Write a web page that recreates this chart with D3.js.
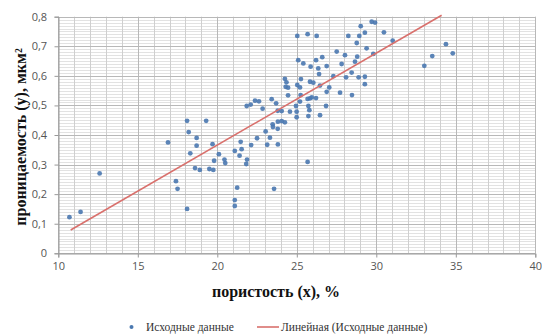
<!DOCTYPE html>
<html><head><meta charset="utf-8">
<script src="https://cdn.jsdelivr.net/npm/d3@7"></script>
<style>body{margin:0;background:#fff}svg{display:block}</style>
</head><body>
<svg id="c" width="542" height="335"></svg>
<script>
const porosity = [10.7,11.4,12.6,16.9,17.4,17.5,18.1,18.1,18.2,18.3,18.7,18.7,18.6,18.9,19.3,19.7,19.5,19.75,19.8,20.1,20.45,20.5,21.1,21.1,21.25,21.1,21.4,21.47,21.53,21.87,21.82,21.85,22.1,22.37,22.62,22.85,22.13,22.5,23.04,23.14,23.31,23.42,23.57,23.48,23.5,23.8,23.81,23.81,23.7,23.8,
24.05,24.25,24.05,24.25,24.35,24.3,24.45,24.45,24.57,24.95,24.99,24.99,25.03,25.09,25.41,25.03,25.2,25.26,25.24,25.2,25.68,26.25,25.87,26.21,26.35,26.6,26.88,26.4,25.83,26.04,26.46,25.68,25.83,25.94,26.21,25.73,25.79,25.73,26.46,25.68,26.84,26.88,27.04,27.3,27.51,27.82,28.03,27.72,28.1,28.24,28.45,28.47,28.66,28.77,28.8,28.93,29.02,28.89,29.28,29.39,29.28,29.28,29.71,29.92,29.81,30.48,31.03,33.02,33.52,34.38,34.81];
const permeability = [0.122,0.14,0.27,0.375,0.244,0.218,0.15,0.448,0.41,0.338,0.39,0.364,0.288,0.282,0.448,0.369,0.285,0.282,0.313,0.335,0.317,0.305,0.18,0.16,0.222,0.346,0.33,0.377,0.352,0.317,0.302,0.498,0.503,0.516,0.514,0.489,0.366,0.389,0.412,0.367,0.391,0.521,0.218,0.436,0.427,0.421,0.445,0.368,0.507,0.482,
0.447,0.443,0.481,0.59,0.578,0.563,0.56,0.534,0.479,0.498,0.46,0.479,0.735,0.653,0.642,0.569,0.561,0.589,0.535,0.513,0.741,0.735,0.631,0.653,0.625,0.663,0.633,0.606,0.58,0.577,0.567,0.522,0.524,0.527,0.525,0.498,0.484,0.464,0.467,0.309,0.498,0.546,0.561,0.599,0.682,0.64,0.67,0.543,0.595,0.735,0.611,0.535,0.648,0.711,0.665,0.735,0.768,0.595,0.746,0.693,0.597,0.572,0.783,0.78,0.674,0.747,0.719,0.634,0.667,0.707,0.676];
const trendX = [10.78, 34.11];
const trendY = [0.079, 0.805];
const xTicks = [10,15,20,25,30,35,40];
const yTicks = [0,0.1,0.2,0.3,0.4,0.5,0.6,0.7,0.8];
const xTitle = "пористость (x), %";
const yTitle = "проницаемость (y), мкм²";
const legendLabels = ["Исходные данные", "Линейная (Исходные данные)"];

const svg = d3.select("#c");
const L = 58.3, R = 535.3, T = 16.7, B = 253.3;
const x = d3.scaleLinear().domain([10,40]).range([L,R]);
const y = d3.scaleLinear().domain([0,0.8]).range([B,T]);

const g = svg.append("g");
g.selectAll("line.hm").data(d3.range(0,81).map(i=>i/100)).enter().append("line")
  .attr("x1",L).attr("x2",R).attr("y1",d=>Math.round(y(d))+0.5).attr("y2",d=>Math.round(y(d))+0.5)
  .attr("stroke","#e2e2e2").attr("stroke-width",1);
g.selectAll("line.vm").data(d3.range(10,41)).enter().append("line")
  .attr("y1",T).attr("y2",B).attr("x1",d=>Math.round(x(d))+0.5).attr("x2",d=>Math.round(x(d))+0.5)
  .attr("stroke",d=>d%5===0?"#b8b8b8":"#cfcfcf").attr("stroke-width",1);
g.selectAll("line.hM").data(yTicks).enter().append("line")
  .attr("x1",L).attr("x2",R).attr("y1",d=>Math.round(y(d))+0.5).attr("y2",d=>Math.round(y(d))+0.5)
  .attr("stroke","#b8b8b8").attr("stroke-width",1);

const xa = svg.append("g").attr("transform",`translate(0,${Math.round(B)+0.5})`)
  .call(d3.axisBottom(x).tickValues(xTicks).tickSize(4).tickFormat(d3.format("d")));
xa.select(".domain").attr("stroke","#999");
xa.selectAll(".tick line").attr("stroke","#999");
xa.selectAll("text").attr("font-family","Open Sans, Liberation Sans, sans-serif").attr("font-size",11).attr("fill","#555").attr("dy","0.9em");
const ya = svg.append("g").attr("transform",`translate(${Math.round(L)+0.5},0)`)
  .call(d3.axisLeft(y).tickValues(yTicks).tickSize(4).tickFormat(d=>d===0?"0":d3.format(".1f")(d).replace(".",",")));
ya.select(".domain").attr("stroke","#999");
ya.selectAll(".tick line").attr("stroke","#999");
ya.selectAll("text").attr("font-family","Open Sans, Liberation Sans, sans-serif").attr("font-size",11).attr("fill","#555").attr("dx","-0.4em");

const pts = porosity.map((v,i)=>[v,permeability[i]]);
svg.append("g").selectAll("circle").data(pts).enter().append("circle")
  .attr("cx",d=>x(d[0])).attr("cy",d=>y(d[1])).attr("r",2.4)
  .attr("fill","#4a78b0").attr("opacity",0.9);

svg.append("line").attr("x1",x(trendX[0])).attr("y1",y(trendY[0])).attr("x2",x(trendX[1])).attr("y2",y(trendY[1]))
  .attr("stroke","#d9706c").attr("stroke-width",1.6);

svg.append("text").attr("x",276).attr("y",297).attr("text-anchor","middle")
  .attr("font-family","Liberation Serif, Times New Roman, serif").attr("font-weight","bold").attr("font-size",16).attr("fill","#111").text(xTitle);
svg.append("text").attr("transform",`translate(26,${137}) rotate(-90)`).attr("text-anchor","middle")
  .attr("font-family","Liberation Serif, Times New Roman, serif").attr("font-weight","bold").attr("font-size",16).attr("fill","#111").text(yTitle);

const lg = svg.append("g").attr("font-family","Liberation Serif, Times New Roman, serif").attr("font-size",11.5).attr("fill","#333");
lg.append("circle").attr("cx",131.5).attr("cy",327).attr("r",2).attr("fill","#4a78b0");
lg.append("text").attr("x",146).attr("y",331).text(legendLabels[0]);
lg.append("line").attr("x1",257).attr("x2",279).attr("y1",327).attr("y2",327).attr("stroke","#d9706c").attr("stroke-width",1.6);
lg.append("text").attr("x",281).attr("y",331).text(legendLabels[1]);
</script>
</body></html>
